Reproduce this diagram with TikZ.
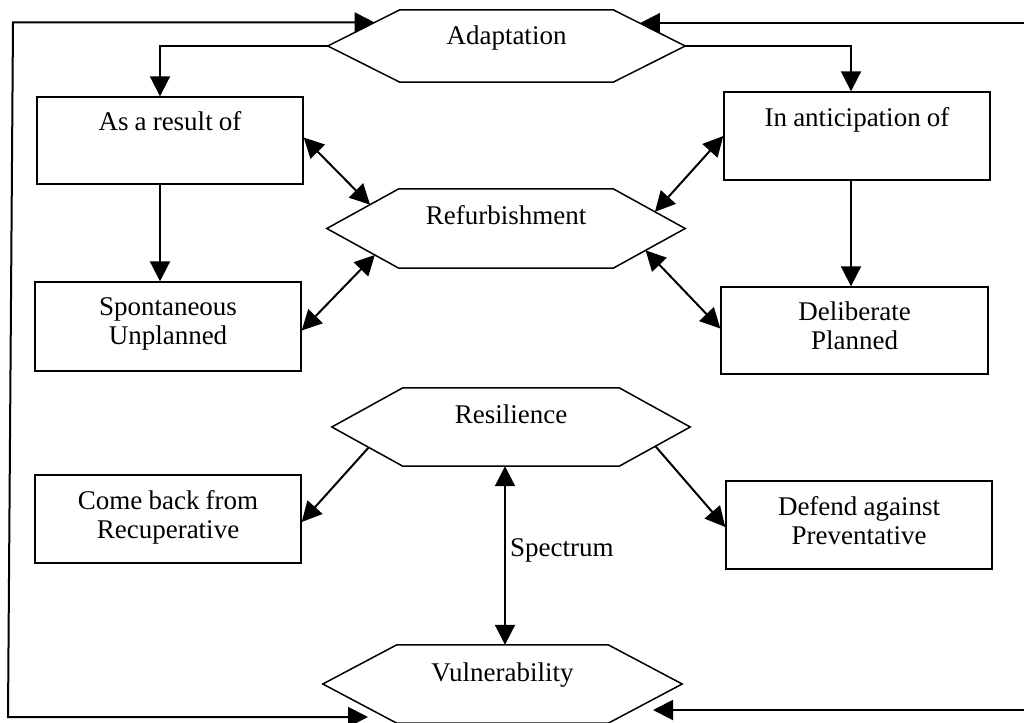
\documentclass[tikz,border=0pt]{standalone}
\usepackage{fontspec}
\setmainfont{Liberation Serif}[WordSpace=0.9]
\usetikzlibrary{arrows.meta,calc}
\tikzset{
  every node/.style={font=\fontsize{27pt}{29pt}\selectfont},
  boxnode/.style={draw, line width=1.4pt, minimum width=266pt, minimum height=88pt, inner sep=0pt},
  hexnode/.style={minimum width=358pt, minimum height=79pt, inner sep=0pt, text height=18pt, text depth=24pt},
  hexline/.style={line width=1.5pt},
  conn/.style={line width=2pt, -{Triangle[length=20pt,width=20pt]}},
  dconn/.style={line width=2pt, {Triangle[length=20pt,width=20pt]}-{Triangle[length=20pt,width=20pt]}},
}
\newcommand\boxtext[1]{\parbox[c][58pt][t]{264pt}{\centering #1}}
\newcommand\drawhex[2]{%
  \draw[hexline] (#1.west) -- ([xshift=#2]#1.north west) -- ([xshift=-#2]#1.north east)
    -- (#1.east) -- ([xshift=-#2]#1.south east) -- ([xshift=#2]#1.south west) -- cycle;}
\begin{document}
\begin{tikzpicture}[x=1pt,y=-1pt]
\useasboundingbox (0,0) rectangle (1024,722);
\clip (0,0) rectangle (1024,722);

% hexagons
\node[hexnode, minimum width=357pt, minimum height=72pt, text depth=20pt] (ad) at (506.5,46) {Adaptation};
\node[hexnode, text depth=27pt] (rf) at (506,228.5) {Refurbishment};
\node[hexnode, minimum height=78pt, text depth=26pt] (rs) at (511,427) {Resilience};
\node[hexnode, minimum width=359pt, minimum height=78pt, text depth=24pt] (vu) at (502.5,684) {Vulnerability};
\drawhex{ad}{72pt}
\drawhex{rf}{72pt}
\drawhex{rs}{71pt}
\drawhex{vu}{74pt}

% boxes
\node[boxnode, minimum height=87pt] (res) at (170,140.5) {\boxtext{As a result of}};
\node[boxnode] (ant) at (857,136) {\boxtext{In anticipation of}};
\node[boxnode, minimum height=89pt] (spo) at (168,326.5) {\boxtext{Spontaneous\\Unplanned}};
\node[boxnode, minimum width=267pt, minimum height=87pt] (del) at (854.5,330.5) {\boxtext{Deliberate\\Planned}};
\node[boxnode] (come) at (168,519) {\boxtext{Come back from\\Recuperative}};
\node[boxnode] (def) at (859,525) {\boxtext{Defend against\\Preventative}};

\node[anchor=base west, inner sep=0pt] (spec) at (510,556) {Spectrum};

% helper coordinates
\coordinate (pA) at ($(ad.west)!0.65!([xshift=72pt]ad.north west)$);
\coordinate (pA2) at ($([xshift=-72pt]ad.north east)!0.37!(ad.east)$);
\coordinate (L1) at (13,0);
\coordinate (L2) at (8,0);
\coordinate (R) at (1034,0);
\coordinate (pV) at (368,717);
\coordinate (pV2) at (653,710);

% outer loops
\draw[dconn] (pA) -- (pA -| L1) -- (pV -| L2) -- (pV);
\draw[dconn] (pA2) -- (pA2 -| R) -- (pV2 -| R) -- (pV2);

% adaptation branches
\draw[conn] (ad.west) -| ([xshift=-10pt]res.north);
\draw[conn] (ad.east) -| ([xshift=-6pt]ant.north);
\draw[conn] ([xshift=-10pt]res.south) -- ([xshift=-8pt]spo.north);
\draw[conn] ([xshift=-6pt]ant.south) -- ([xshift=-3.5pt]del.north);

% refurbishment links
\draw[dconn] ([yshift=3pt]res.east) -- ($(rf.west)!0.6!([xshift=72pt]rf.north west)$);
\draw[dconn] (ant.west) -- ($(rf.east)!0.42!([xshift=-72pt]rf.north east)$);
\draw[dconn] ([yshift=-4pt]spo.east) -- ($(rf.west)!0.667!([xshift=72pt]rf.south west)$);
\draw[dconn] ([yshift=2pt]del.west) -- ($(rf.east)!0.55!([xshift=-72pt]rf.south east)$);

% resilience links
\draw[conn] ($(rs.west)!0.52!([xshift=71pt]rs.south west)$) -- ([yshift=-3pt]come.east);
\draw[conn] ($(rs.east)!0.49!([xshift=-71pt]rs.south east)$) -- ([yshift=-2pt]def.west);
\draw[dconn] ([xshift=-6pt]rs.south) -- ([xshift=2.5pt]vu.north);
\end{tikzpicture}
\end{document}
